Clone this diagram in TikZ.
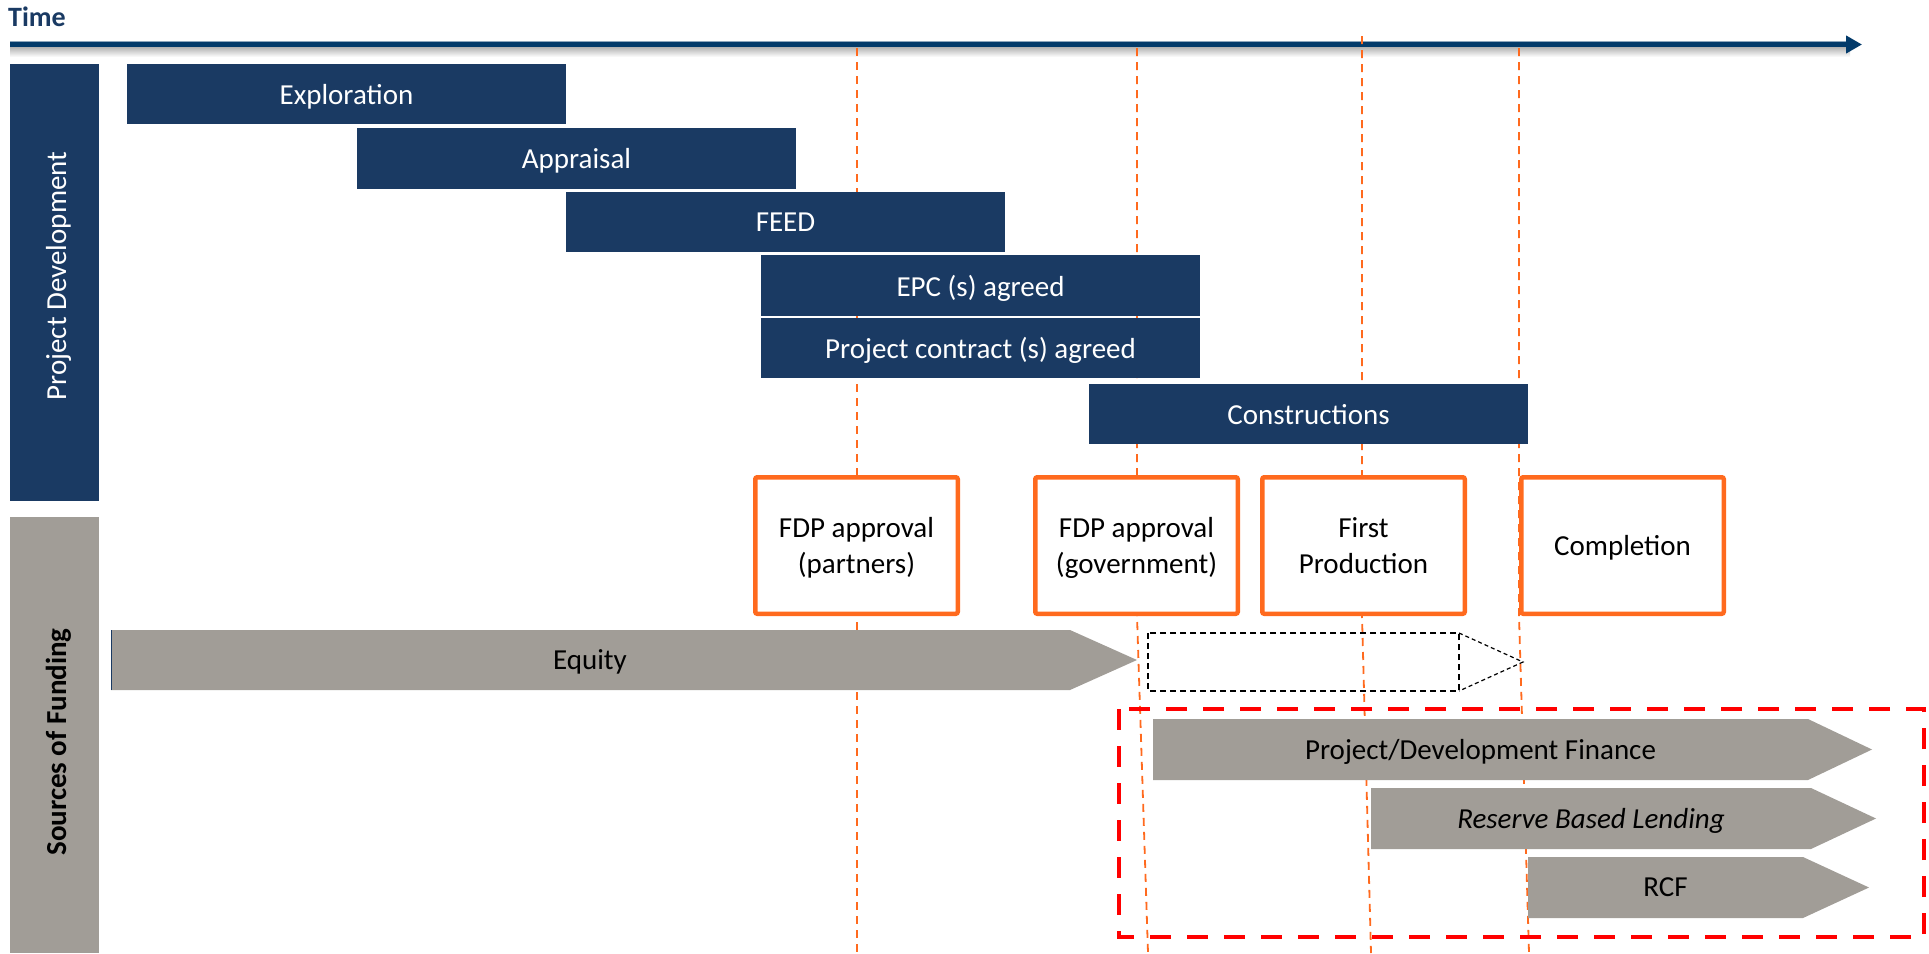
\documentclass[tikz,border=0pt]{standalone}
\usepackage{fontspec}
\setmainfont{Carlito}
\usetikzlibrary{arrows.meta}
\definecolor{navy}{HTML}{1A3A63}
\definecolor{timeblue}{HTML}{023A6A}
\definecolor{stone}{HTML}{A19D97}
\definecolor{flame}{HTML}{FF6A1E}
\definecolor{alert}{HTML}{FF0000}

\begin{document}
\begin{tikzpicture}[x=1pt,y=-1pt,
  lbl/.style={font=\fontsize{29}{36}\selectfont, text depth=0pt},
  phase/.style={lbl, fill=navy, text=white, inner sep=0pt,
    minimum width=439pt, minimum height=60pt},
  milestone/.style={lbl, draw=flame, line width=4.5pt, rounded corners=2pt,
    fill=white, align=center, inner sep=0pt,
    minimum width=202.5pt, minimum height=136.5pt},
  guide/.style={draw=flame, line width=1.8pt, dash pattern=on 8pt off 6pt},
  fund/.style={fill=stone},
  fundtext/.style={lbl, text=black, inner sep=0pt},
  sidebar/.style={inner sep=0pt, minimum width=89pt},
]
\useasboundingbox (0,0) rectangle (1929,953);

% ---- time axis ----
\node[anchor=west, inner sep=0pt, text=navy,
  font=\fontsize{28}{34}\selectfont\bfseries] (time) at (8,17) {Time};
\coordinate (tstart) at (10,44.5);
\coordinate (tend) at (1862,44.5);
\shade[top color=black!30, bottom color=white] (10,47) rectangle (1850,57);
\draw[timeblue, line width=5.5pt, -{Triangle[length=16pt,width=17pt]}] (tstart) -- (tend);
\draw[timeblue!45!white, line width=0.8pt] (10,41.8) -- (1846,41.8);

% ---- milestone guide lines (behind everything else) ----
\coordinate (g1t) at (857,48);   \coordinate (g1b) at (857,953);
\coordinate (g2t) at (1137,48);  \coordinate (g2m) at (1137,616); \coordinate (g2b) at (1148,953);
\coordinate (g3t) at (1362,36);  \coordinate (g3m) at (1362,616); \coordinate (g3b) at (1371,953);
\coordinate (g4t) at (1519,48);  \coordinate (g4m) at (1519,616); \coordinate (g4b) at (1529,953);
\draw[guide] (g1t) -- (g1b);
\draw[guide] (g2t) -- (g2m) -- (g2b);
\draw[guide] (g3t) -- (g3m) -- (g3b);
\draw[guide] (g4t) -- (g4m) -- (g4b);

% ---- side headings ----
\node[sidebar, fill=navy, minimum height=437pt] (pdbar) at (54.5,282.5) {};
\node[lbl, text=white, rotate=90, inner sep=0pt] (pdlbl) at (56,276) {Project Development};
\node[sidebar, fill=stone, minimum height=436pt] (sfbar) at (54.5,735) {};
\node[lbl, text=black, font=\fontsize{29}{36}\selectfont\bfseries, rotate=90, inner sep=0pt]
  (sflbl) at (56,742) {Sources of Funding};

% ---- project development phases ----
\node[phase] (explor) at (346.5,94) {Exploration};
\node[phase, minimum height=61pt] (apprais) at (576.5,158.5) {Appraisal};
\node[phase] (feed) at (785.5,222) {FEED};
\node[phase, minimum height=61pt] (epc) at (980.5,285.5) {EPC (s) agreed};
\node[phase] (contract) at (980.5,348) {Project contract (s) agreed};
\node[phase] (constr) at (1308.5,414) {Constructions};

% ---- milestones ----
\node[milestone] (fdpp) at (856.5,545.5) {FDP approval\\(partners)};
\node[milestone] (fdpg) at (1136.5,545.5) {FDP approval\\(government)};
\node[milestone] (firstp) at (1363.5,545.5) {First\\Production};
\node[milestone] (compl) at (1622.5,545.5) {Completion};

% ---- equity ----
\fill[fund] (111,630) -- (1070,630) -- (1137,660) -- (1070,690) -- (111,690) -- cycle;
\draw[navy, line width=1.2pt] (111.5,630) -- (111.5,690);
\node[fundtext] (equity) at (590,660) {Equity};

% equity extension (dashed outline)
\draw[black, line width=1.5pt, dash pattern=on 6pt off 4pt]
  (1148,633) rectangle (1459,691);
\draw[black, line width=1.2pt, dash pattern=on 4pt off 3pt]
  (1459,633) -- (1523,662) -- (1459,691);

% ---- debt funding group ----
\draw[alert, line width=4.5pt, dash pattern=on 21pt off 16pt]
  (1119,709) rectangle (1924,937);

\fill[fund] (1153,719) -- (1808,719) -- (1872,749.5) -- (1808,780) -- (1153,780) -- cycle;
\node[fundtext] (pdf) at (1480.5,749.5) {Project/Development Finance};

\fill[fund] (1371,788) -- (1811,788) -- (1876,818.5) -- (1811,849) -- (1371,849) -- cycle;
\node[fundtext, font=\fontsize{29}{36}\selectfont\itshape] (rbl) at (1591,818.5) {Reserve Based Lending};

\fill[fund] (1528,857) -- (1803,857) -- (1869,887.5) -- (1803,918) -- (1528,918) -- cycle;
\node[fundtext] (rcf) at (1665.5,887.5) {RCF};
\end{tikzpicture}
\end{document}
